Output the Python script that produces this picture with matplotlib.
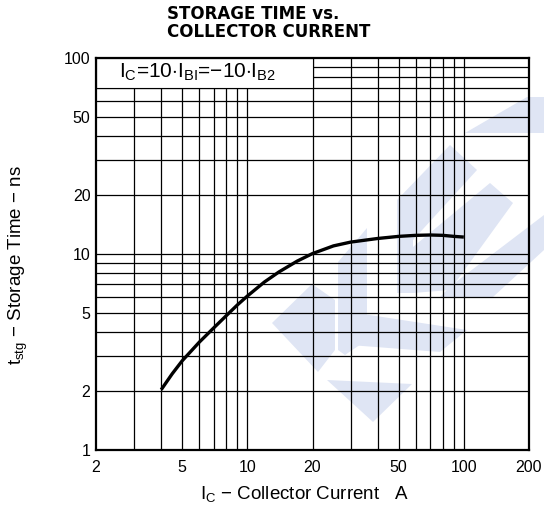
import matplotlib
matplotlib.use("Agg")
import matplotlib.pyplot as plt
from matplotlib.patches import Polygon, Rectangle

# ---- data ----
ic = [4, 4.5, 5, 6, 7, 8, 9, 10, 12, 14, 17, 20, 25, 30, 40, 50, 60, 70, 80, 90, 100]
tstg = [2.03, 2.45, 2.85, 3.55, 4.2, 4.85, 5.5, 6.1, 7.2, 8.1, 9.2, 10.05, 11.0, 11.5,
        12.0, 12.3, 12.45, 12.5, 12.45, 12.3, 12.2]

x_ticks = [2, 5, 10, 20, 50, 100, 200]
x_ticklabels = ["2", "5", "10", "20", "50", "100", "200"]
y_ticks = [1, 2, 5, 10, 20, 50, 100]
y_ticklabels = ["1", "2", "5", "10", "20", "50", "100"]
x_grid = [3, 4, 5, 6, 7, 8, 9, 10, 20, 30, 40, 50, 60, 70, 80, 90, 100]
y_grid = [2, 3, 4, 5, 6, 7, 8, 9, 10, 20, 30, 40, 50, 60, 70, 80, 90]

title_lines = "STORAGE TIME vs.\nCOLLECTOR CURRENT"
xlabel = r"$\mathregular{I_C}$ $-$ Collector Current   A"
ylabel = r"$\mathregular{t_{stg}}$ $-$ Storage Time $-$ ns"
annot = r"$\mathregular{I_C}$=10$\cdot$$\mathregular{I_{BI}}$=$-$10$\cdot$$\mathregular{I_{B2}}$"

plt.rcParams['font.family'] = ['Liberation Sans', 'DejaVu Sans']
plt.rcParams['mathtext.fontset'] = 'custom'
plt.rcParams['mathtext.rm'] = 'Liberation Sans'

W, H = 544, 511
fig = plt.figure(figsize=(W / 100, H / 100), dpi=100)
ax = fig.add_axes([96 / W, 1 - 450 / H, (529 - 96) / W, (450 - 58) / H])
ax.set_facecolor('none')

# watermark (decorative), in pixel coordinates
wm_color = '#dfe5f4'
wm_shapes = [
    [(465, 133), (527, 97), (544, 97), (544, 133)],
    [(450, 145), (477, 170), (413, 240), (413, 293), (397, 293), (397, 200)],
    [(490, 183), (513, 203), (450, 290), (413, 293), (413, 247)],
    [(544, 215), (544, 250), (493, 297), (440, 297), (452, 285)],
    [(272, 323), (312, 284), (335, 300), (335, 350), (318, 372)],
    [(338, 262), (367, 228), (367, 340), (345, 355), (338, 350)],
    [(350, 312), (467, 330), (440, 352), (350, 345)],
    [(327, 380), (412, 384), (373, 422)],
]
for shp in wm_shapes:
    pts = [(px / W, 1 - py / H) for px, py in shp]
    fig.add_artist(Polygon(pts, closed=True, facecolor=wm_color, edgecolor='none',
                           transform=fig.transFigure, zorder=-5))

ax.set_xscale('log')
ax.set_yscale('log')
ax.set_xlim(2, 200)
ax.set_ylim(1, 100)

for yv in y_grid:
    ax.axhline(yv, color='black', lw=0.9, zorder=1)
for xv in x_grid:
    ax.axvline(xv, color='black', lw=0.9, zorder=1)

# annotation box covering grid
ax.add_patch(Rectangle((2, 70), 18, 30, facecolor='white', edgecolor='black',
                       lw=0.8, zorder=2))
ax.text(198 / W, 1 - 72 / H, annot, transform=fig.transFigure, ha='center', va='center',
        fontsize=15, zorder=3)

ax.plot(ic, tstg, color='black', lw=2.4, zorder=4, solid_capstyle='butt',
        solid_joinstyle='round')

ax.set_xticks(x_ticks)
ax.set_xticklabels(x_ticklabels)
ax.set_yticks(y_ticks)
ax.set_yticklabels(y_ticklabels)
ax.minorticks_off()
ax.tick_params(axis='both', length=0, labelsize=11.5)
ax.tick_params(axis='x', pad=7)
ax.tick_params(axis='y', pad=4)
for sp in ax.spines.values():
    sp.set_linewidth(1.6)
    sp.set_zorder(5)

fig.text(167 / W, 1 - 23 / H, title_lines, ha='left', va='center', fontsize=12,
         fontweight='bold', linespacing=0.95, family=['DejaVu Sans'])
fig.text(304 / W, 1 - 494 / H, xlabel, ha='center', va='center', fontsize=13.5)
fig.text(18 / W, 1 - 265 / H, ylabel, ha='center', va='center', fontsize=13.5,
         rotation=90)

fig.savefig('out.png', dpi=100)
